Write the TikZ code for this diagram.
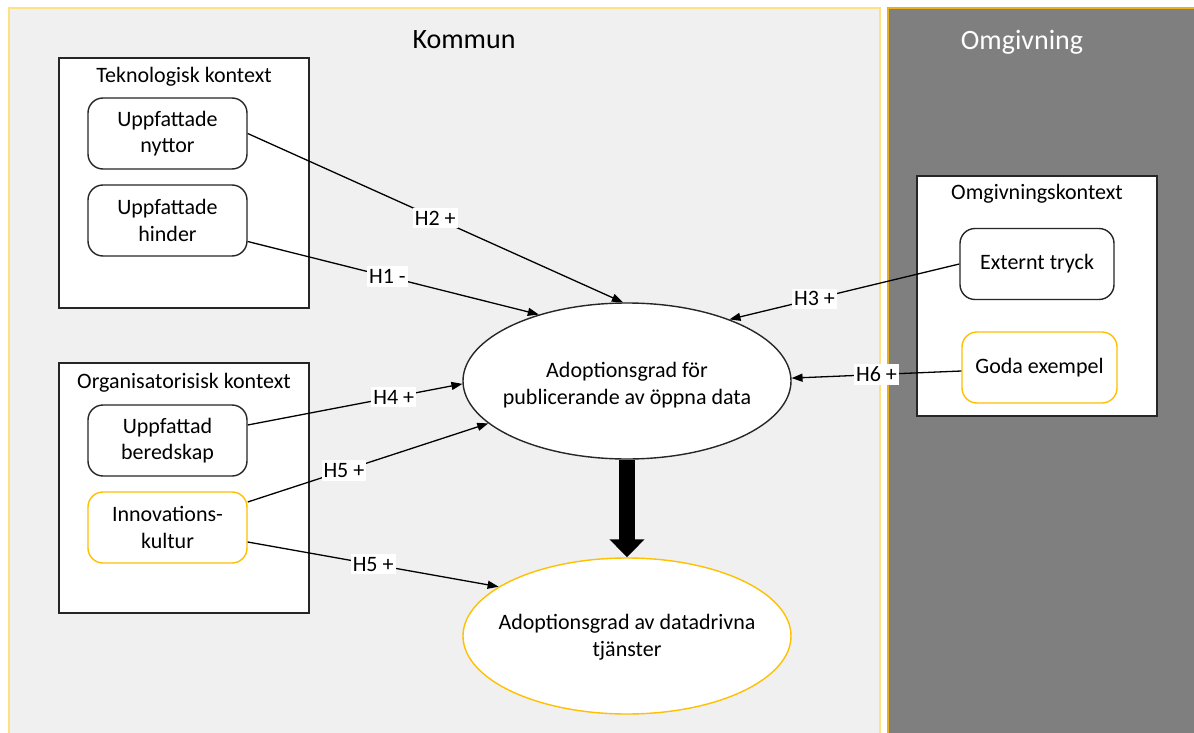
\documentclass[tikz,border=0pt]{standalone}
\usepackage{fontspec}
\setmainfont{Carlito}
\usetikzlibrary{arrows.meta,shapes.geometric}
\definecolor{panelgray}{HTML}{F0F0F0}
\definecolor{darkpanel}{HTML}{7F7F7F}
\definecolor{lightyel}{HTML}{FFE083}
\definecolor{goldline}{HTML}{E8B020}
\definecolor{gold}{HTML}{FFC000}
\definecolor{edgecol}{HTML}{262626}
\begin{document}
\begin{tikzpicture}[x=1pt,y=-1pt,
  txt/.style={font=\fontsize{22}{26.5}\selectfont},
  ttl/.style={font=\fontsize{28}{32}\selectfont},
  ctx/.style={draw=edgecol,line width=1.6pt,fill=white,minimum width=250pt,minimum height=250pt,inner sep=0pt},
  item/.style={draw=edgecol,line width=1.4pt,fill=white,rounded corners=15pt,minimum width=159pt,minimum height=71pt,align=center,txt,inner sep=0pt},
  golditem/.style={item,draw=gold},
  oval/.style={ellipse,draw=edgecol,line width=1.4pt,fill=white,minimum width=328pt,minimum height=156pt,inner sep=0pt},
  lbl/.style={fill=white,txt,inner xsep=2pt,inner ysep=3pt},
  conn/.style={line width=1.3pt,-{Triangle[length=11pt,width=8pt]}},
]
\useasboundingbox (0,0) rectangle (1194,733);
\clip (0,0) rectangle (1194,733);
% panels
\node[draw=lightyel,line width=1.5pt,fill=panelgray,minimum width=871pt,minimum height=737pt,inner sep=0pt] (kommun) at (444.5,376.5) {};
\node[draw=goldline,line width=1.5pt,fill=darkpanel,minimum width=312pt,minimum height=737pt,inner sep=0pt] (omg) at (1044,376.5) {};
\node[ttl] (kommunT) at (464,40) {Kommun};
\node[ttl,text=white] (omgT) at (1022,42) {Omgivning};
% context boxes
\node[ctx] (tek) at (184,183) {};
\node[txt] (tekT) at (184,77) {Teknologisk kontext};
\node[item] (nyttor) at (167.5,133.5) {Uppfattade\\nyttor};
\node[item] (hinder) at (167.5,220.5) {Uppfattade\\hinder};
\node[ctx] (org) at (184,488) {};
\node[txt] (orgT) at (184,383) {Organisatorisisk kontext};
\node[item] (bered) at (167.5,440.5) {Uppfattad\\beredskap};
\node[golditem] (innov) at (167.5,527.5) {Innovations-\\kultur};
\node[ctx,minimum width=240pt,minimum height=240pt] (omgctx) at (1037,296) {};
\node[txt] (omgctxT) at (1037,194) {Omgivningskontext};
\node[item,minimum width=154pt] (ext) at (1037,264) {Externt tryck};
\node[golditem,minimum width=155pt] (goda) at (1039.5,367.5) {Goda exempel};
% ellipses
\node[oval] (e1) at (627,381) {};
\node[txt,align=center] (e1T) at (627,385) {Adoptionsgrad för\\publicerande av öppna data};
\node[oval,draw=gold] (e2) at (627,636) {};
\node[txt,align=center] (e2T) at (627,637) {Adoptionsgrad av datadrivna\\tjänster};
% thick arrow
\draw[line width=16pt,-{Triangle[length=18pt,width=34pt]}] (e1.south) -- (e2.north);
% connectors
\draw[conn] (nyttor.east) -- node[lbl,pos=0.5]{H2 +} (e1.93.6);
\draw[conn] ([yshift=-21pt]hinder.east) -- node[lbl,pos=0.48]{H1 -} (e1.143.7);
\draw[conn] (ext.west) -- node[lbl,pos=0.63]{H3 +} (e1.31.4);
\draw[conn] ([yshift=-3.5pt]goda.west) -- node[lbl,pos=0.5]{H6 +} (e1.1.4);
\draw[conn] ([yshift=15.5pt]bered.east) -- node[lbl,pos=0.68]{H4 +} (e1.181.4);
\draw[conn] ([yshift=25.5pt]innov.east) -- node[lbl,pos=0.4]{H5 +} (e1.197);
\draw[conn] ([yshift=-14.5pt]innov.east) -- node[lbl,pos=0.5]{H5 +} (e2.159.2);
\end{tikzpicture}
\end{document}
